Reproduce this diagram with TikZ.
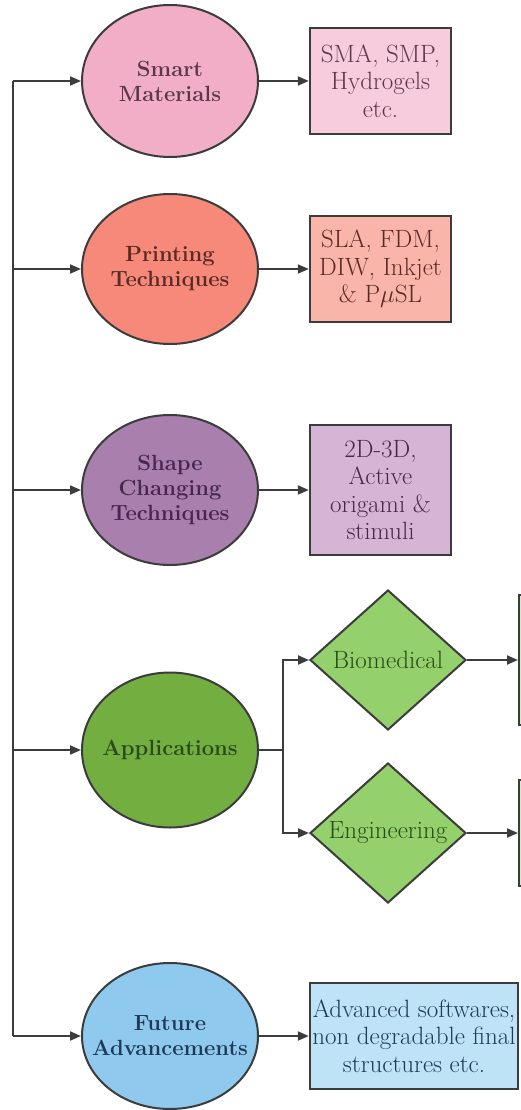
\documentclass[tikz,border=0pt]{standalone}
\usetikzlibrary{shapes.geometric,arrows.meta,positioning}
\definecolor{edge}{HTML}{3C3C3C}
\definecolor{smE}{HTML}{F2AEC6}\definecolor{smB}{HTML}{F7CCDC}\definecolor{smT}{HTML}{5A3848}
\definecolor{ptE}{HTML}{F7897A}\definecolor{ptB}{HTML}{F9B5AA}\definecolor{ptT}{HTML}{5A2A24}
\definecolor{scE}{HTML}{A97FAE}\definecolor{scB}{HTML}{D5B5D6}\definecolor{scT}{HTML}{45294A}
\definecolor{apE}{HTML}{73AE40}\definecolor{apD}{HTML}{94D06B}\definecolor{apT}{HTML}{2A4A1C}
\definecolor{faE}{HTML}{8FCAEE}\definecolor{faB}{HTML}{BEE2F6}\definecolor{faT}{HTML}{1E3A58}
\tikzset{
  oval/.style={ellipse, draw=edge, line width=2pt, minimum width=176pt, minimum height=150pt, inner sep=0pt},
  ovaltext/.style={align=center, font=\fontsize{22}{25}\selectfont\bfseries},
  infobox/.style={rectangle, draw=edge, line width=2.4pt, minimum width=141pt, minimum height=106pt, inner sep=1pt, align=center, font=\fontsize{25}{27.5}\selectfont},
  dia/.style={diamond, draw=edge, line width=2pt, fill=apD, text=apT, minimum width=156pt, minimum height=140pt, inner sep=0pt, aspect=1.11, font=\fontsize{25}{27}\selectfont},
  arr/.style={draw=edge, line width=2pt, -{Triangle[length=11pt,width=9pt]}},
  ln/.style={draw=edge, line width=2pt},
}
\begin{document}
\begin{tikzpicture}[x=1pt,y=-1pt]
\useasboundingbox (0,0) rectangle (520,1110);
\fill[white] (0,0) rectangle (520,1110);
% ellipses
\node[oval, fill=smE, minimum height=152pt, label={[ovaltext, text=smT]center:Smart\\Materials}] (sm) at (170,81) {};
\node[oval, fill=ptE, label={[ovaltext, text=ptT]center:Printing\\Techniques}] (pt) at (170,269) {};
\node[oval, fill=scE, label={[ovaltext, text=scT]center:Shape\\Changing\\Techniques}] (sc) at (170,490) {};
\node[oval, fill=apE, minimum height=155pt, label={[ovaltext, text=apT]center:Applications}] (ap) at (170,750) {};
\node[oval, fill=faE, minimum height=146pt, label={[ovaltext, text=faT]center:Future\\Advancements}] (fa) at (170,1036) {};
% boxes
\node[infobox, fill=smB, text=smT] (b1) at (380.5,81) {SMA, SMP,\\Hydrogels\\etc.};
\node[infobox, fill=ptB, text=ptT] (b2) at (380.5,269) {SLA, FDM,\\DIW, Inkjet\\\& P$\mu$SL};
\node[infobox, fill=scB, text=scT, minimum height=130pt] (b3) at (380.5,490) {2D-3D,\\Active\\origami \&\\stimuli};
\node[infobox, fill=faB, text=faT, minimum width=208pt, inner sep=0pt] (b5) at (414,1036) {Advanced softwares,\\non degradable final\\structures etc.};
% diamonds
\node[dia] (bio) at (388,660) {Biomedical};
\node[dia] (eng) at (388,833) {Engineering};
% partial boxes at right edge
\node[rectangle, draw=edge, line width=2.4pt, fill=apD!40, minimum width=120pt, minimum height=130pt, anchor=west] (pb1) at (518,660) {};
\node[rectangle, draw=edge, line width=2.4pt, fill=apD!40, minimum width=120pt, minimum height=106pt, anchor=west] (pb2) at (518,833) {};
% spine
\coordinate (s1) at (13,81);
\coordinate (s5) at (13,1036);
\draw[ln] (s1) -- (s5);
\draw[arr] (s1) -- (sm.west);
\draw[arr] (13,269) -- (pt.west);
\draw[arr] (13,490) -- (sc.west);
\draw[arr] (13,750) -- (ap.west);
\draw[arr] (s5) -- (fa.west);
% right arrows
\draw[arr] (sm.east) -- (b1.west);
\draw[arr] (pt.east) -- (b2.west);
\draw[arr] (sc.east) -- (b3.west);
\draw[arr] (fa.east) -- (b5.west);
% applications branch
\coordinate (br) at (283,750);
\draw[ln] (ap.east) -- (br);
\draw[arr] (br) |- (bio.west);
\draw[arr] (br) |- (eng.west);
\draw[arr] (bio.east) -- (pb1.west);
\draw[arr] (eng.east) -- (pb2.west);
\end{tikzpicture}
\end{document}
